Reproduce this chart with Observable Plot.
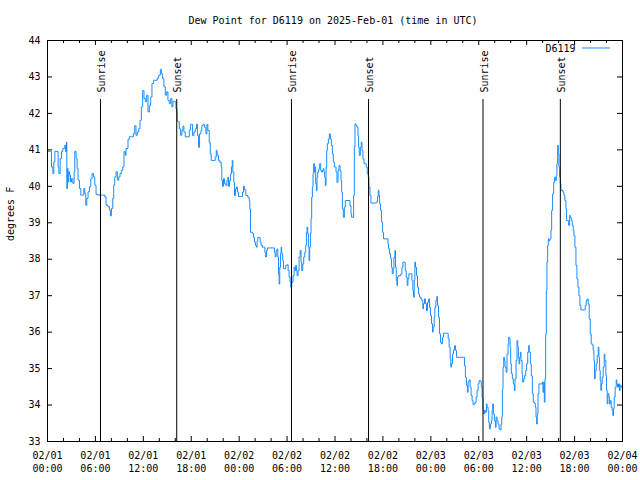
<!DOCTYPE html>
<html><head><meta charset="utf-8">
<script src="https://cdn.jsdelivr.net/npm/d3@7"></script>
<script src="https://cdn.jsdelivr.net/npm/@observablehq/plot@0.6"></script>
<style>html,body{margin:0;padding:0;background:#fff} svg{display:block}</style>
</head><body><div id="chart"></div>
<script>
const chartTitle = "Dew Point for D6119 on 2025-Feb-01 (time in UTC)";
const seriesName = "D6119";
const yLabel = "degrees F";
const startTime = "2025-02-01T00:00:00Z";
const endTime = "2025-02-04T00:00:00Z";

// hours since 2025-02-01 00:00 UTC
const hours = [
0,0.38,0.5,0.67,0.79,0.92,1.21,1.33,1.42,1.58,1.75,1.92,2.17,2.25,2.38,2.42,2.5,2.58,2.67,2.75,2.88,3.0,3.17,3.33,3.42,3.58,3.71,3.83,4.0,4.17,4.42,4.54,4.67,4.79,4.92,5.08,5.25,5.42,5.58,5.75,5.92,6.08,6.33,7.04,7.17,7.33,7.58,7.75,7.88,8.0,8.17,8.29,8.42,8.58,8.75,8.92,9.08,9.25,9.42,9.58,9.75,9.83,10.08,10.25,10.58,10.75,10.92,11.08,11.25,11.42,11.58,11.75,11.92,12.08,12.25,12.42,12.58,12.75,12.92,13.08,13.29,13.58,13.75,13.92,14.13,14.25,14.42,14.58,14.75,14.92,15.08,15.25,15.42,15.58,15.71,15.92,16.08,16.21,16.25,16.33,16.5,16.67,16.83,16.96,17.08,17.25,17.58,17.75,
17.92,18.08,18.17,18.33,18.5,18.67,18.79,18.92,19.04,19.21,19.33,19.5,19.67,19.83,19.96,20.08,20.25,20.38,20.5,20.83,21.0,21.13,21.25,21.42,21.58,21.75,21.83,21.92,22.04,22.17,22.33,22.46,22.58,22.67,22.79,22.92,23.04,23.13,23.21,23.33,23.42,23.54,23.67,23.79,23.92,24.25,24.42,24.54,24.67,24.83,25.08,25.25,25.33,25.42,25.67,25.79,25.92,26.04,26.17,26.25,26.33,26.5,26.63,26.75,26.92,27.08,27.21,27.33,27.42,27.54,28.33,28.42,28.5,28.63,28.75,28.83,28.92,29.0,29.08,29.17,29.25,29.33,29.46,29.54,29.71,29.83,30.0,30.13,30.25,30.38,30.46,30.58,30.75,30.88,31.0,31.08,31.17,31.25,31.38,31.5,31.63,31.75,31.83,31.96,32.08,32.21,32.33,32.42,32.5,32.58,32.67,32.75,32.83,32.92,33.0,33.08,33.17,33.25,33.33,33.42,33.5,33.58,33.67,33.75,33.83,33.96,34.08,34.21,34.33,34.42,34.5,34.63,34.71,34.79,34.88,34.96,35.04,35.17,35.29,35.42,35.54,35.67,35.79,35.92,
36.0,36.13,36.25,36.38,36.5,36.63,36.75,36.83,36.92,37.04,37.17,37.29,37.75,37.88,38.0,38.08,38.25,38.33,38.42,38.5,38.63,38.75,38.88,38.96,39.04,39.17,39.29,39.38,39.5,39.63,39.79,39.92,40.04,40.17,40.25,40.38,40.5,41.17,41.33,41.42,41.5,41.58,41.71,41.83,41.96,42.08,42.54,42.63,42.71,42.83,42.96,43.08,43.17,43.29,43.38,43.5,43.58,43.67,43.75,43.83,43.96,44.25,44.38,44.5,44.67,44.79,44.92,45.04,45.13,45.25,45.5,45.63,45.75,45.83,45.92,46.0,46.08,46.21,46.33,46.46,46.58,46.75,46.88,47.0,47.08,47.21,47.33,47.46,47.58,47.71,47.83,47.96,48.08,48.21,48.29,48.42,48.5,48.63,48.75,48.83,48.96,49.08,49.21,49.33,49.46,49.58,50.04,50.17,50.29,50.42,50.5,50.58,50.71,50.83,50.96,51.08,51.21,52.08,52.21,52.33,52.46,52.58,52.67,52.79,52.92,53.04,53.17,53.29,53.42,53.54,53.67,53.79,53.92,54.04,54.21,54.33,
54.42,54.54,54.63,54.71,54.83,54.96,55.04,55.17,55.25,55.33,55.46,55.58,55.67,55.75,55.83,55.96,56.08,56.17,56.29,56.42,56.54,56.67,56.79,56.88,56.96,57.04,57.13,57.21,57.29,57.42,57.54,57.67,57.75,57.83,57.92,58.0,58.08,58.21,58.33,58.46,58.54,58.67,58.79,58.88,58.96,59.04,59.13,59.21,59.29,59.42,59.5,59.63,59.75,59.88,60.0,60.13,60.25,60.33,60.46,60.58,60.71,60.83,60.96,61.08,61.17,61.25,61.33,61.42,61.54,61.96,62.04,62.13,62.21,62.29,62.38,62.46,62.54,62.63,62.71,62.79,62.92,63.04,63.13,63.25,63.38,63.5,63.63,63.71,63.79,63.88,63.96,64.04,64.13,64.21,64.29,64.54,64.67,64.79,64.92,65.0,65.25,65.38,65.46,65.58,65.71,65.83,65.92,66.04,66.17,66.29,66.42,66.54,66.67,66.79,67.21,67.33,67.46,67.58,67.71,67.83,67.96,68.08,68.21,68.33,68.42,68.5,68.58,68.71,68.83,68.96,69.04,69.13,69.21,69.29,69.38,69.46,69.58,69.71,69.79,69.92,70.0,70.08,70.17,70.29,70.38,70.46,70.58,70.71,70.79,70.88,70.96,71.08,71.21,71.29,71.38,71.5,71.63,71.71,71.83,72.0
];
const dewF = [
40.96,40.96,40.53,40.35,40.67,40.96,40.96,40.53,40.35,40.76,40.96,41.04,41.13,40.95,41.22,39.94,40.49,40.12,40.40,40.31,40.12,40.21,40.08,40.40,40.96,40.76,40.49,40.17,39.94,39.76,39.76,39.94,39.80,39.48,39.67,39.85,39.99,40.21,40.35,40.26,40.03,39.78,39.76,39.76,39.71,39.48,39.44,39.35,39.19,39.39,39.67,40.03,40.26,40.40,40.17,40.26,40.35,40.44,40.53,40.95,40.85,41.04,41.29,41.36,41.36,41.45,41.66,41.40,41.49,41.58,41.81,42.18,42.63,42.41,42.32,42.50,42.04,42.22,42.45,42.82,42.91,42.91,42.97,43.05,43.21,43.09,42.95,42.73,42.50,42.59,42.36,42.27,42.41,42.18,42.33,42.32,42.13,42.04,41.79,41.77,41.58,41.40,41.54,41.65,41.49,41.36,41.36,41.54,
41.70,41.70,41.39,41.49,41.58,41.70,41.39,41.07,41.44,41.53,41.67,41.70,41.62,41.44,41.70,41.53,41.21,40.89,40.71,40.71,40.80,40.98,40.85,40.71,40.66,40.53,40.16,40.00,40.21,40.07,40.02,40.16,40.25,40.00,40.16,40.34,40.53,40.71,40.39,40.11,39.75,39.93,39.98,39.84,39.72,39.72,39.84,40.00,39.90,39.75,39.70,39.61,39.38,38.74,38.71,38.60,38.47,38.38,38.33,38.51,38.60,38.59,38.47,38.38,38.33,38.33,38.19,38.06,38.24,38.31,38.31,38.19,38.07,38.24,38.28,38.06,37.60,37.32,37.78,38.15,38.33,38.15,37.96,37.74,37.74,37.83,37.85,37.69,37.51,37.37,37.23,37.37,37.55,37.78,37.69,37.83,37.69,37.55,37.69,38.06,38.24,37.92,37.69,37.87,38.06,38.19,38.38,38.74,38.88,38.70,38.33,37.96,38.33,38.70,39.11,39.70,39.98,40.34,40.62,40.39,40.53,40.07,39.88,40.25,40.39,40.48,40.62,40.43,40.39,40.43,40.48,40.39,40.25,40.02,40.53,40.98,41.17,41.30,41.44,41.30,41.12,40.89,40.66,40.53,
40.53,40.39,40.11,40.43,40.57,40.43,40.16,39.84,39.38,39.15,39.43,39.61,39.61,39.47,39.25,39.15,39.15,39.75,41.07,41.71,41.67,41.62,41.39,41.07,40.85,41.07,41.21,40.98,40.75,40.62,40.62,40.53,40.34,40.25,39.98,39.75,39.54,39.57,39.72,39.89,39.75,39.52,39.34,39.02,38.74,38.56,38.56,38.42,38.29,38.15,38.01,37.78,37.60,37.74,38.06,38.24,37.78,37.42,37.28,37.51,37.55,37.60,37.78,37.92,37.92,37.69,37.51,37.28,37.46,37.60,37.60,37.42,37.14,36.96,37.42,37.92,37.78,37.55,37.23,37.05,36.96,36.91,36.87,36.64,36.78,36.91,36.78,36.59,36.82,36.91,36.68,36.46,36.23,36.00,36.14,36.41,36.68,36.87,36.98,36.73,36.41,35.95,35.72,35.68,35.86,35.97,35.97,35.82,35.59,35.27,35.04,35.13,35.40,35.51,35.63,35.50,35.31,35.31,35.08,34.76,34.54,34.35,34.63,34.69,34.49,34.26,34.12,34.01,34.03,34.08,34.22,34.40,34.58,34.67,34.65,34.49,
34.22,33.85,33.76,33.85,33.80,34.03,33.94,33.85,33.53,33.35,33.48,33.57,33.85,34.03,33.76,33.57,33.39,33.67,33.57,33.48,33.35,33.32,33.48,33.68,34.44,35.04,35.31,35.22,35.04,34.90,35.40,35.68,35.86,35.82,35.59,35.13,34.86,34.72,34.58,34.40,34.72,35.22,35.77,35.59,35.31,35.13,35.31,35.45,35.22,34.86,34.63,34.72,34.81,34.95,35.13,35.45,35.63,35.45,35.13,34.80,34.31,34.08,34.05,33.94,33.67,33.48,33.76,34.31,34.58,34.63,34.35,34.63,34.08,34.72,35.95,37.14,37.92,38.38,38.56,38.51,38.56,38.79,39.34,39.79,40.11,40.25,40.16,40.30,40.62,41.12,40.89,40.53,40.25,40.07,39.89,39.84,39.75,39.61,39.38,39.06,38.93,39.20,39.15,39.06,38.93,38.79,38.65,38.33,37.83,37.46,37.23,37.00,36.73,36.61,36.61,36.73,36.87,36.91,36.77,36.36,35.95,35.68,35.65,35.50,35.22,34.72,34.95,35.13,35.36,35.59,35.31,34.95,34.67,34.40,34.58,34.76,35.04,35.40,35.22,34.81,34.40,34.03,34.31,34.22,34.03,34.12,33.94,33.85,33.71,33.90,34.22,34.49,34.69,34.58,34.49,34.58,34.40,34.54,34.49,34.55
];

const sunLabels = ["Sunrise","Sunset","Sunrise","Sunset","Sunrise","Sunset"];
const sunTimes = ["2025-02-01T06:38:00Z","2025-02-01T16:11:00Z","2025-02-02T06:33:00Z","2025-02-02T16:12:00Z","2025-02-03T06:32:00Z","2025-02-03T16:13:00Z"];
const xTickTimes = ["2025-02-01T00:00:00Z","2025-02-01T06:00:00Z","2025-02-01T12:00:00Z","2025-02-01T18:00:00Z","2025-02-02T00:00:00Z","2025-02-02T06:00:00Z","2025-02-02T12:00:00Z","2025-02-02T18:00:00Z","2025-02-03T00:00:00Z","2025-02-03T06:00:00Z","2025-02-03T12:00:00Z","2025-02-03T18:00:00Z","2025-02-04T00:00:00Z"];
const yTicks = [33,34,35,36,37,38,39,40,41,42,43,44];

const lineColor = "#1a8cff";
const W = 640, H = 480, mL = 47, mR = 18, mT = 40, mB = 39;
const pw = W - mL - mR, ph = H - mT - mB;

const t0 = new Date(startTime), t1 = new Date(endTime);
const data = hours.map((h, i) => ({t: new Date(+t0 + h * 3600e3), v: dewF[i]}));
const sun = sunTimes.map((s, i) => ({t: new Date(s), label: sunLabels[i]}));
const majorX = xTickTimes.map(s => new Date(s));
const minorX = d3.utcHour.every(2).range(t0, t1).filter(d => d.getUTCHours() % 6 !== 0);
const fmt = d3.utcFormat("%m/%d\n%H:%M");

const legendLine = (index, scales, values, dims) => {
  const y = dims.marginTop + 8;
  return d3.create("svg:line")
    .attr("x1", dims.width - dims.marginRight - 40)
    .attr("x2", dims.width - dims.marginRight - 12)
    .attr("y1", y).attr("y2", y)
    .attr("stroke", lineColor).attr("stroke-width", 1).node();
};

const chart = Plot.plot({
  width: W, height: H,
  marginLeft: mL, marginRight: mR, marginTop: mT, marginBottom: mB,
  style: {fontFamily: "'DejaVu Sans Mono', monospace", fontSize: "10px", background: "white", color: "black"},
  x: {type: "utc", domain: [t0, t1]},
  y: {domain: [33, 44]},
  marks: [
    Plot.line(data, {x: "t", y: "v", stroke: lineColor, strokeWidth: 1, curve: "step-after"}),
    Plot.ruleX(sun, {x: "t", insetTop: 59, stroke: "black", strokeWidth: 1}),
    Plot.text(sun, {x: "t", text: "label", frameAnchor: "top", rotate: -90, textAnchor: "start", lineAnchor: "middle", dy: 52, dx: 1.5, fill: "black"}),
    Plot.frame({stroke: "black"}),
    Plot.ruleX(majorX, {insetTop: ph - 5, stroke: "black"}),
    Plot.ruleX(majorX, {insetBottom: ph - 5, stroke: "black"}),
    Plot.ruleX(minorX, {insetTop: ph - 3, stroke: "black"}),
    Plot.ruleX(minorX, {insetBottom: ph - 3, stroke: "black"}),
    Plot.ruleY(yTicks, {insetRight: pw - 5, stroke: "black"}),
    Plot.ruleY(yTicks, {insetLeft: pw - 5, stroke: "black"}),
    Plot.axisX({ticks: majorX, tickFormat: fmt, tickSize: 0, tickPadding: 9, lineHeight: 1.25, label: null}),
    Plot.axisY({ticks: yTicks, tickSize: 0, tickPadding: 7, label: null}),
    Plot.text([chartTitle], {text: d => d, frameAnchor: "top", lineAnchor: "middle", dy: -20, dx: -2, fill: "black"}),
    Plot.text([yLabel], {text: d => d, frameAnchor: "left", lineAnchor: "middle", dx: -37, rotate: -90, fill: "black"}),
    Plot.text([seriesName], {text: d => d, frameAnchor: "top-right", lineAnchor: "middle", dx: -47, dy: 8, textAnchor: "end", fill: "black"}),
    legendLine
  ]
});
document.getElementById("chart").appendChild(chart);
</script>
</body></html>
